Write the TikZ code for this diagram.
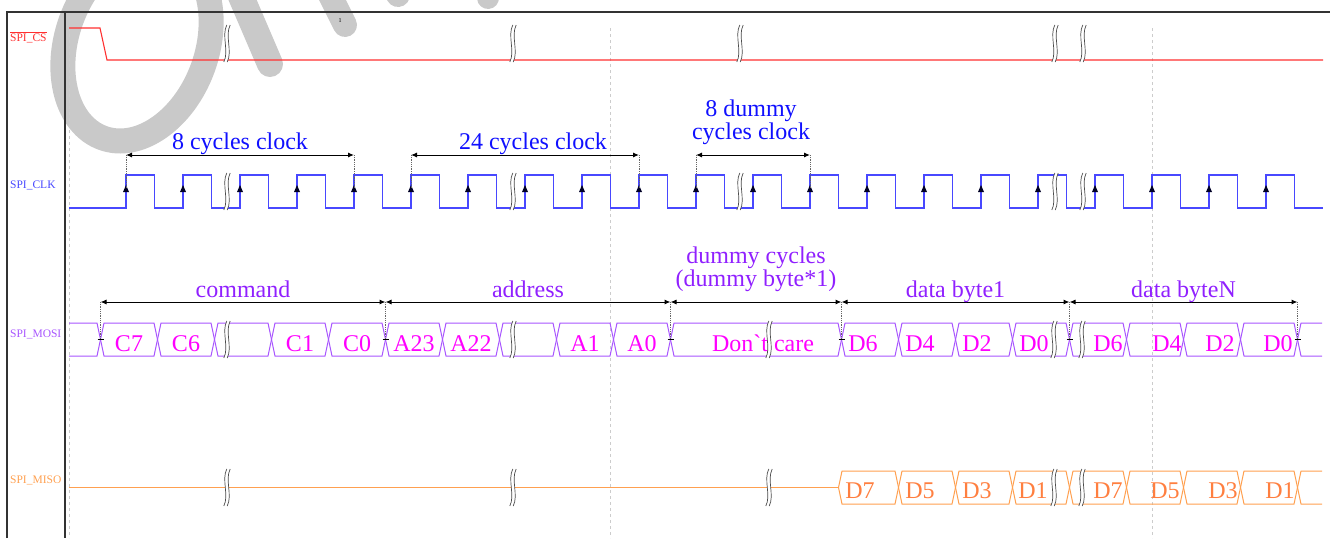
\documentclass[tikz,border=0pt]{standalone}
\usepackage{fontspec}
\setmainfont{Liberation Serif}
\usetikzlibrary{arrows.meta,calc}
\definecolor{csred}{HTML}{FF3030}
\definecolor{clkblue}{HTML}{4848FF}
\definecolor{clktext}{HTML}{1010FF}
\definecolor{mosiline}{HTML}{A855FF}
\definecolor{mositext}{HTML}{FF00FF}
\definecolor{mosigrp}{HTML}{9020FF}
\definecolor{misoline}{HTML}{FFA050}
\definecolor{misotext}{HTML}{FF7F40}
\definecolor{markgray}{HTML}{C9C9C9}
\definecolor{framegray}{HTML}{333333}
% one bus cell: style, left tip, right tip, middle y
\newcommand{\busseg}[4]{%
	\draw[#1] ({#2},{#4}) -- ({#2+3.5},{#4-16.5}) -- ({#3-3.5},{#4-16.5}) -- ({#3},{#4})
		-- ({#3-3.5},{#4+16.5}) -- ({#2+3.5},{#4+16.5}) -- cycle;}
% time break mark: x, middle y
\newcommand{\brk}[2]{%
	\draw[white, line width=3.2pt] ({#1+1.5},{#2-18.5}) .. controls ({#1-4},{#2-8}) and ({#1+4},{#2+8}) .. ({#1-1.5},{#2+18.5});
	\foreach \dx in {-1.7,1.7}
		\draw[breakline] ({#1+1.5+\dx},{#2-18.5}) .. controls ({#1-4+\dx},{#2-8}) and ({#1+4+\dx},{#2+8}) .. ({#1-1.5+\dx},{#2+18.5});}
\tikzset{
	sig/.style={line width=1.1pt, line join=miter},
	cs/.style={sig, draw=csred},
	clk/.style={sig, draw=clkblue},
	mosi/.style={line width=1pt, draw=mosiline},
	miso/.style={line width=1pt, draw=misoline},
	breakline/.style={draw=black!70, line width=0.7pt},
	signame/.style={font=\fontsize{11.5}{11.5}\selectfont, inner sep=0pt, anchor=base west},
	grp/.style={font=\fontsize{24}{20}\selectfont, inner sep=0pt, align=center},
	cell/.style={font=\fontsize{24}{24}\selectfont, inner sep=0pt, anchor=base},
	spanarrow/.style={{Latex[length=6pt,width=5pt]}-{Latex[length=6pt,width=5pt]}, line width=1pt, black},
	guide/.style={densely dotted, black!60, line width=0.8pt},
	tickmark/.style={black, line width=0.8pt},
	gridline/.style={dash pattern=on 3pt off 3pt, black!20, line width=0.8pt},
	edgemark/.style={fill=black!85!blue},
	wmark/.style={draw=markgray, line cap=round}
}
\begin{document}
\begin{tikzpicture}[x=1pt, y=-1pt]
	\useasboundingbox (0,0) rectangle (1330,538);
	\clip (0,0) rectangle (1330,538);
	% watermark
	\draw[wmark, line width=25pt, rotate around={-20:(137,44)}] (137,44) ellipse [x radius=70, y radius=100];
	\draw[wmark, line width=26pt] (234,-20) -- (270,64);
	\draw[wmark, line width=24pt] (325,-15) -- (345,25);
	\draw[wmark, line width=24pt] (390,-20) -- (398,-5);
	\draw[wmark, line width=22pt] (487,-20) -- (488,-2);
	\node[font=\fontsize{6}{6}\selectfont, inner sep=0pt] (one) at (340,21) {1};
	% grid and frame
	\foreach \x in {69,610,1152}
		\draw[gridline] (\x,28) -- (\x,538);
	\draw[framegray, line width=1.2pt] (7,538) -- (7,12) -- (1330,12);
	\draw[framegray, line width=1.2pt] (65,12) -- (65,538);
	% signal names
	\node[signame, text=csred] (ncs) at (10,41) {$\overline{\mbox{SPI\_CS}}$};
	\node[signame, text=clkblue] (nclk) at (10,188) {SPI\_CLK};
	\node[signame, text=mosiline] (nmosi) at (10,337) {SPI\_MOSI};
	\node[signame, text=misoline] (nmiso) at (10,483) {SPI\_MISO};
	% SPI_CS
	\draw[cs] (69,28) -- (100,28) -- (107,60) -- (1323,60);
	% SPI_CLK
	\draw[clk] (69,208) \foreach \n in {1,...,21}{ -- ({69+57*\n},208) -- ({69+57*\n},175)
		-- ({97.5+57*\n},175) -- ({97.5+57*\n},208) } -- (1323,208);
	\foreach \n in {1,...,21}
		\fill[edgemark] ({69+57*\n},185) -- ({72+57*\n},192) -- ({66+57*\n},192) -- cycle;
	% SPI_MOSI
	\draw[mosi] (69,323) -- (97,323) -- (100.5,339.5) -- (97,356) -- (69,356);
	\foreach \k in {0,1,2,3,4,5,6,7,8,9,13,14,15,16,17,18,19,20}
		{\busseg{mosi}{100.5+57*\k}{157.5+57*\k}{339.5}}
	\busseg{mosi}{670.5}{841.5}{339.5}
	\draw[mosi] (1322,323) -- (1301,323) -- (1297.5,339.5) -- (1301,356) -- (1322,356);
	\foreach \x/\t [count=\i] in {129/C7,186/C6,300/C1,357/C0,414/A23,471/A22,585/A1,642/A0,
		763/{Don\textasciigrave t care},863/D6,920/D4,977/D2,1034/D0,1108/D6,1167/D4,1220/D2,1278/D0}
		\node[cell, text=mositext] (mo\i) at (\x,351.5) {\t};
	% SPI_MISO
	\draw[miso, line width=1.6pt] (69,487.5) -- (838.5,487.5);
	\busseg{miso}{838.5}{898.5}{487.5}
	\foreach \k in {14,15,16,17,18,19,20}
		{\busseg{miso}{100.5+57*\k}{157.5+57*\k}{487.5}}
	\draw[miso] (1322,471) -- (1301,471) -- (1297.5,487.5) -- (1301,504) -- (1322,504);
	\foreach \x/\t [count=\i] in {860/D7,920/D5,977/D3,1033/D1,1108/D7,1165/D5,1223/D3,1280/D1}
		\node[cell, text=misotext] (mi\i) at (\x,498) {\t};
	% breaks
	\foreach \x in {227,513,740,1055,1083}
		{\brk{\x}{43.5}\brk{\x}{191.5}}
	\foreach \x in {227,513,769,1054,1082}
		{\brk{\x}{339.5}\brk{\x}{487.5}}
	% clock spans
	\foreach \x [count=\i from 0] in {126,354,411,639,696,810}
		\coordinate (k\i) at (\x,155);
	\foreach \i in {0,...,5}
		\draw[guide] (k\i) -- ++(0,33);
	\draw[spanarrow] (k0) -- (k1);
	\draw[spanarrow] (k2) -- (k3);
	\draw[spanarrow] (k4) -- (k5);
	\node[grp, text=clktext, anchor=base] (lk0) at ($(k0)!0.5!(k1)+(0,-6)$) {8 cycles clock};
	\node[grp, text=clktext, anchor=base] (lk1) at ($(k2)!0.5!(k3)+(8,-6)$) {24 cycles clock};
	\node[grp, text=clktext, anchor=south] (lk2) at ($(k4)!0.5!(k5)+(-2,-10)$) {8 dummy\\cycles clock};
	% data spans
	\foreach \x [count=\i from 0] in {100.5,385.5,670.5,841.5,1069.5,1297.5}
		\coordinate (m\i) at (\x,302);
	\foreach \i in {0,...,5}{
		\draw[guide] (m\i) -- ++(0,37.5);
		\draw[tickmark] ($(m\i)+(-3,37.5)$) -- ++(6,0);
	}
	\foreach \a/\b in {0/1,1/2,2/3,3/4,4/5}
		\draw[spanarrow] (m\a) -- (m\b);
	\node[grp, text=mosigrp, anchor=base] (lm0) at ($(m0)!0.5!(m1)+(0,-5)$) {command};
	\node[grp, text=mosigrp, anchor=base] (lm1) at ($(m1)!0.5!(m2)+(0,-5)$) {address};
	\node[grp, text=mosigrp, anchor=south] (lm2) at ($(m2)!0.5!(m3)+(0,-10)$) {dummy cycles\\(dummy byte*1)};
	\node[grp, text=mosigrp, anchor=base] (lm3) at ($(m3)!0.5!(m4)+(0,-5)$) {data byte1};
	\node[grp, text=mosigrp, anchor=base] (lm4) at ($(m4)!0.5!(m5)+(0,-5)$) {data byteN};
\end{tikzpicture}
\end{document}
